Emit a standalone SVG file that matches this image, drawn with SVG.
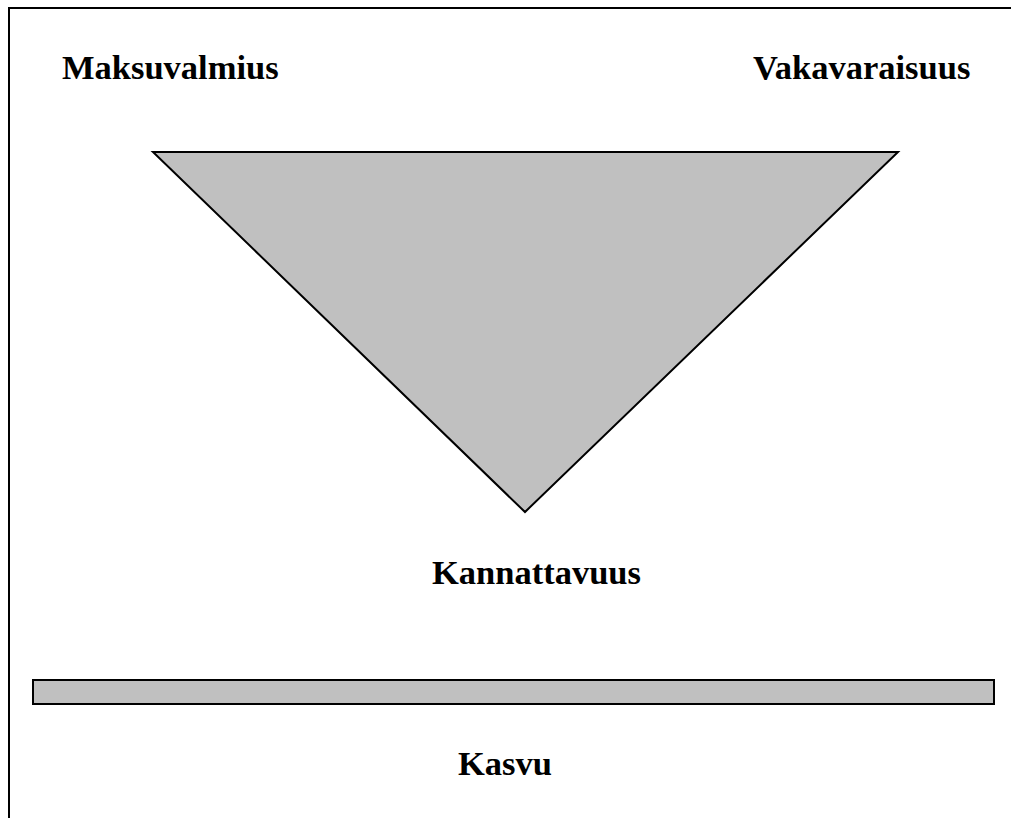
<svg xmlns="http://www.w3.org/2000/svg" width="1011" height="818" viewBox="0 0 1011 818">
  <style>
    .lbl { font-family: "Liberation Serif", "Times New Roman", serif; font-weight: bold; font-size: 34.5px; fill: #000; }
    .shape { fill: #c0c0c0; stroke: #000; stroke-width: 2; }
  </style>
  <rect width="1011" height="818" fill="#fff"/>
  <!-- outer frame, open to the right and bottom -->
  <path d="M9,818 V8 H1011" fill="none" stroke="#000" stroke-width="2"/>
  <g id="triangle">
    <polygon class="shape" points="153,152 898,152 525,512"/>
  </g>
  <g id="bar">
    <rect class="shape" x="33" y="680" width="961" height="24"/>
  </g>
  <g id="maksuvalmius"><text class="lbl" x="62" y="79">Maksuvalmius</text></g>
  <g id="vakavaraisuus"><text class="lbl" x="753" y="79">Vakavaraisuus</text></g>
  <g id="kannattavuus"><text class="lbl" x="432" y="584">Kannattavuus</text></g>
  <g id="kasvu"><text class="lbl" x="458" y="775">Kasvu</text></g>
  <g id="connectors"/>
</svg>
